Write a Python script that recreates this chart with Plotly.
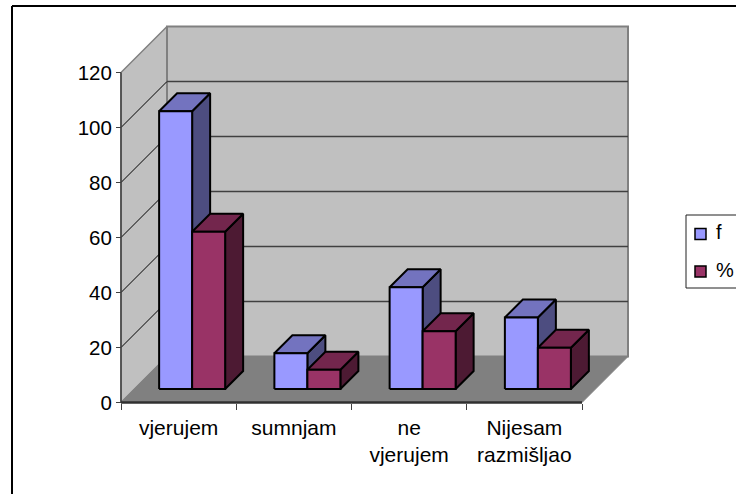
import plotly.graph_objects as go

# Survey responses: counts and percentages per answer
categories = ["vjerujem", "sumnjam", "ne<br>vjerujem", "Nijesam<br>razmišljao"]
f_values = [101, 13, 37, 26]
pct_values = [57.2, 7, 21, 15]
y_ticks = [0, 20, 40, 60, 80, 100, 120]

W, H = 736, 494
X0_PX, Y0_PX = 121.0, 402.5   # pixel position of the axes origin
PX_PER_CAT = 115.25
PX_PER_UNIT = 2.75
DEPTH_PX = 46.0               # oblique projection depth of the chart box
DX = DEPTH_PX / PX_PER_CAT    # depth expressed along the category axis
DY = DEPTH_PX / PX_PER_UNIT   # depth expressed along the value axis
BAR_W = 33.0 / PX_PER_CAT
BAR_GAP = (1 - 2 * BAR_W) / 2
BAR_NEAR, BAR_FAR = 13.5 / DEPTH_PX, 31.5 / DEPTH_PX  # bar extent within the depth
Y_MAX = y_ticks[-1]
N = len(categories)

FONT = dict(family="Liberation Sans, Arial, sans-serif", size=20, color="#000000")
FONT_X = dict(FONT, size=21)
FONT_Y = dict(FONT, size=20.5)
COL_F = dict(front="#9999FF", top="#7373BF", side="#4D4D80")
COL_P = dict(front="#993366", top="#73264D", side="#4D1A33")


def poly(xs, ys, fill, line="#000000", width=2.0):
    return go.Scatter(
        x=xs + xs[:1], y=ys + ys[:1], mode="lines", fill="toself", fillcolor=fill,
        line=dict(color=line, width=width), hoverinfo="skip", showlegend=False,
    )


def seg(xs, ys, color, width):
    return go.Scatter(x=xs, y=ys, mode="lines", line=dict(color=color, width=width),
                      hoverinfo="skip", showlegend=False)


def bar(x, value, col):
    """Three visible faces of one oblique 3D bar."""
    xa, xb = x + BAR_NEAR * DX, x + BAR_W + BAR_NEAR * DX
    ya, yb = BAR_NEAR * DY, value + BAR_NEAR * DY
    d = (BAR_FAR - BAR_NEAR)
    ddx, ddy = d * DX, d * DY
    return [
        poly([xb, xb + ddx, xb + ddx, xb], [ya, ya + ddy, yb + ddy, yb], col["side"]),
        poly([xa, xb, xb + ddx, xa + ddx], [yb, yb, yb + ddy, yb + ddy], col["top"]),
        poly([xa, xb, xb, xa], [ya, ya, yb, yb], col["front"]),
    ]


traces = []
# Chart box: side wall, back wall and floor
traces.append(poly([0, DX, DX, 0], [0, DY, Y_MAX + DY, Y_MAX], "#C0C0C0", "#808080", 1.5))
traces.append(poly([DX, N + DX, N + DX, DX], [DY, DY, Y_MAX + DY, Y_MAX + DY], "#C0C0C0", "#808080", 2))
traces.append(poly([0, N, N + DX, DX], [0, 0, DY, DY], "#808080", "#808080", 1))

# Gridlines run along the side wall and across the back wall
for t in y_ticks[1:-1]:
    traces.append(seg([0, DX], [t, t + DY], "#000000", 1))
    traces.append(seg([DX, N + DX], [t + DY, t + DY], "#404040", 1.5))
traces.append(seg([0, 0], [0, Y_MAX], "#404040", 1.5))
traces.append(seg([0, N], [0, 0], "#303030", 2.5))

# Bars, drawn left to right so nearer faces cover farther ones
for i in range(N):
    x = i + BAR_GAP
    traces += bar(x, f_values[i], COL_F)
    traces += bar(x + BAR_W, pct_values[i], COL_P)

# Legend swatches
leg_x = (700.5 - X0_PX) / PX_PER_CAT
leg_ys = [(Y0_PX - 234) / PX_PER_UNIT, (Y0_PX - 271.5) / PX_PER_UNIT]
for name, col, ly in zip(["f", "%"], [COL_F, COL_P], leg_ys):
    traces.append(go.Scatter(
        x=[leg_x], y=[ly], mode="markers", name=name, showlegend=False, hoverinfo="skip",
        marker=dict(symbol="square", size=11, color=col["front"], line=dict(color="#000000", width=1.5)),
    ))

fig = go.Figure(traces)

x_range = [-X0_PX / PX_PER_CAT, (W - X0_PX) / PX_PER_CAT]
y_range = [-(H - Y0_PX) / PX_PER_UNIT, Y0_PX / PX_PER_UNIT]

fig.update_layout(
    width=W, height=H, margin=dict(l=0, r=0, t=0, b=0),
    paper_bgcolor="#FFFFFF", plot_bgcolor="#FFFFFF", showlegend=False, font=FONT,
    xaxis=dict(
        range=x_range, domain=[0, 1], anchor="free", position=(H - Y0_PX) / H,
        showgrid=False, zeroline=False, showline=False, fixedrange=True,
        tickmode="array", tickvals=[i + 0.5 for i in range(N)], ticktext=categories,
        ticks="outside", ticklen=6, tickcolor="rgba(0,0,0,0)", tickfont=FONT_X,
        minor=dict(tickmode="array", tickvals=list(range(N + 1)), ticks="outside",
                   ticklen=6, tickcolor="#404040", tickwidth=1, showgrid=False),
    ),
    yaxis=dict(
        range=y_range, domain=[0, 1], anchor="free", position=X0_PX / W,
        showgrid=False, zeroline=False, showline=False, fixedrange=True,
        tickmode="array", tickvals=y_ticks, ticks="outside", ticklen=5,
        tickcolor="#404040", tickwidth=1, tickfont=FONT_Y,
    ),
    shapes=[
        # Outer frame
        dict(type="line", xref="paper", yref="paper", x0=12 / W, x1=1, y0=1 - 6 / H, y1=1 - 6 / H,
             line=dict(color="#000000", width=2)),
        dict(type="line", xref="paper", yref="paper", x0=12 / W, x1=12 / W, y0=0, y1=1 - 6 / H,
             line=dict(color="#000000", width=2)),
        # Legend box, open at the right where the canvas ends
        dict(type="rect", xref="paper", yref="paper", x0=686 / W, x1=740 / W,
             y0=1 - 288 / H, y1=1 - 215 / H, line=dict(color="#202020", width=1),
             layer="below"),
    ],
    annotations=[
        dict(text=t, xref="paper", yref="paper", x=714 / W, y=1 - yy / H, xanchor="left",
             yanchor="middle", showarrow=False, font=FONT)
        for t, yy in [("f", 232), ("%", 270)]
    ],
)

fig.write_html("out.html")
